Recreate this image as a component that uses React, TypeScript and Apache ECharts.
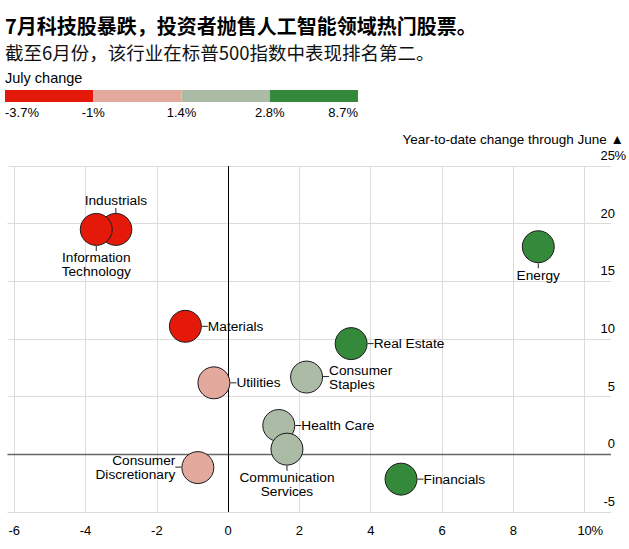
import React, { useEffect, useRef } from "react";
import * as echarts from "echarts";

// Sectors of the S&P 500: July change (x) vs. year-to-date change through June (y)
const sectors = [
  "Industrials",
  "Information Technology",
  "Energy",
  "Materials",
  "Real Estate",
  "Utilities",
  "Consumer Staples",
  "Health Care",
  "Communication Services",
  "Consumer Discretionary",
  "Financials",
];
const julyChange = [-3.15, -3.7, 8.7, -1.2, 3.45, -0.4, 2.2, 1.42, 1.65, -0.85, 4.85];
const ytdChange = [19.5, 19.5, 18.0, 11.1, 9.6, 6.2, 6.7, 2.5, 0.45, -1.15, -2.15];

// Colour bins for the July change
const binBreaks = [-3.7, -1, 1.4, 2.8, 8.7];
const binLabels = ["-3.7%", "-1%", "1.4%", "2.8%", "8.7%"];
const binColors = ["#e5190a", "#e2a99c", "#abbba6", "#348a3a"];

const xTicks = [-6, -4, -2, 0, 2, 4, 6, 8, 10];

const title = "7月科技股暴跌，投资者抛售人工智能领域热门股票。";
const subtitle = "截至6月份，该行业在标普500指数中表现排名第二。";
const legendTitle = "July change";
const yAxisTitle = "Year-to-date change through June ▲";

// Where each sector's label sits relative to its bubble
const labelSide: Record<string, string> = {
  Industrials: "top",
  "Information Technology": "bottom",
  Energy: "bottom",
  Materials: "right",
  "Real Estate": "right",
  Utilities: "right",
  "Consumer Staples": "right",
  "Health Care": "right",
  "Communication Services": "bottom",
  "Consumer Discretionary": "left",
  Financials: "right",
};
const labelLines: Record<string, string[]> = {
  "Information Technology": ["Information", "Technology"],
  "Consumer Staples": ["Consumer", "Staples"],
  "Communication Services": ["Communication", "Services"],
  "Consumer Discretionary": ["Consumer", "Discretionary"],
};

const FONT = "'Liberation Sans', Arial, Helvetica, sans-serif";
const CJK = "'Noto Sans CJK SC', 'Liberation Sans', sans-serif";

function labelText(name: string): string {
  const lines = labelLines[name] || [name];
  const side = labelSide[name];
  if (side === "top") return `{t|${lines.join("}\n{t|")}}\n{v|}`;
  if (side === "bottom") return `{v|}\n{t|${lines.join("}\n{t|")}}`;
  if (side === "left") {
    if (lines.length === 1) return `{t|${lines[0]}}{h|}`;
    return `{t|${lines[0]}}{hb|}\n{t|${lines[1]}}{s|}`;
  }
  if (lines.length === 1) return `{h|}{t|${lines[0]}}`;
  return `{hb|}{t|${lines[0]}}\n{s|}{t|${lines[1]}}`;
}

export default function App() {
  const ref = useRef<HTMLDivElement>(null);

  useEffect(() => {
    document.body.style.margin = "0";
    if (!ref.current) return;
    const chart = echarts.init(ref.current, null, { renderer: "svg" });

    // legend bar
    const barX = 5;
    const barW = 353;
    const segW = barW / binColors.length;
    const legendGraphics: any[] = [];
    binColors.forEach((c, i) => {
      legendGraphics.push({
        type: "rect",
        shape: { x: barX + i * segW, y: 90, width: segW, height: 12 },
        style: { fill: c },
      });
    });
    binLabels.forEach((t, i) => {
      const align = i === 0 ? "left" : i === binLabels.length - 1 ? "right" : "center";
      legendGraphics.push({
        type: "text",
        x: barX + i * segW,
        y: 112,
        style: {
          text: t,
          font: `13px ${FONT}`,
          fill: "#000",
          textAlign: align,
          textVerticalAlign: "middle",
        },
      });
    });

    const data = sectors.map((name, i) => ({
      name,
      value: [julyChange[i], ytdChange[i]],
      label: {
        position: labelSide[name],
        align:
          labelSide[name] === "left"
            ? "right"
            : labelSide[name] === "right"
            ? "left"
            : "center",
      },
    }));

    const option: any = {
      animation: false,
      textStyle: { fontFamily: FONT },
      grid: { left: 5, right: 17, top: 166, bottom: 37 },
      xAxis: {
        type: "value",
        min: -6.19,
        max: 10.74,
        axisLine: { show: false },
        axisTick: { show: false },
        splitLine: { show: false },
        axisLabel: {
          customValues: xTicks,
          margin: 12,
          fontSize: 13,
          color: "#000",
          fontFamily: FONT,
          // the percent sign hangs to the right of the centred number
          formatter: (v: number) => (v === 10 ? "{s|}{n|10}{q|%}" : `{s|}{n|${v}}{s|}`),
          rich: { n: {}, s: { width: 11 }, q: { width: 11 } },
        },
      },
      yAxis: {
        type: "value",
        position: "right",
        min: -5,
        max: 25,
        interval: 5,
        axisLine: { show: false },
        axisTick: { show: false },
        splitLine: { lineStyle: { color: "#dcdcdc", width: 1 } },
        axisLabel: {
          inside: true,
          margin: -15,
          verticalAlign: "bottom",
          padding: [0, 0, 4, 0],
          fontSize: 13,
          color: "#000",
          fontFamily: FONT,
          formatter: (v: number) => (v === 25 ? "{n|25}{q|%}" : `{n|${v}}{p|}`),
          rich: { n: {}, p: { width: 11, align: "right" }, q: { width: 11 } },
        },
      },
      visualMap: {
        show: false,
        type: "piecewise",
        dimension: 0,
        seriesIndex: 0,
        pieces: binColors.map((c, i) => ({
          gte: binBreaks[i],
          lt: i === binColors.length - 1 ? binBreaks[i + 1] + 1 : binBreaks[i + 1],
          color: c,
        })),
      },
      series: [
        {
          type: "scatter",
          symbolSize: 32,
          z: 3,
          itemStyle: { borderColor: "#1a1a1a", borderWidth: 1, opacity: 1 },
          label: {
            show: true,
            distance: 0,
            color: "#000",
            fontSize: 13.7,
            fontFamily: FONT,
            formatter: (p: any) => labelText(p.name),
            rich: {
              t: { fontSize: 13.7, lineHeight: 14, color: "#000", fontFamily: FONT },
              h: { width: 6, height: 1, backgroundColor: "#222" },
              hb: { width: 6, height: 1, backgroundColor: "#222", verticalAlign: "bottom" },
              s: { width: 6, height: 1 },
              v: { width: 1, height: 5, lineHeight: 5, backgroundColor: "#222" },
            },
          },
          emphasis: { disabled: true },
          data,
          markLine: {
            silent: true,
            z: 1,
            symbol: "none",
            label: { show: false },
            emphasis: { disabled: true },
            data: [
              ...xTicks
                .filter((v) => v !== 0)
                .map((v) => ({ xAxis: v, lineStyle: { color: "#dcdcdc", width: 1, type: "solid" } })),
              { yAxis: 0, lineStyle: { color: "#666", width: 1.3, type: "solid" } },
              { xAxis: 0, lineStyle: { color: "#000", width: 1, type: "solid" } },
            ],
          },
        },
      ],
      graphic: [
        {
          type: "text",
          x: 5,
          y: 25,
          style: {
            text: title,
            font: `bold 20px ${CJK}`,
            fill: "#000",
            textVerticalAlign: "middle",
          },
        },
        {
          type: "text",
          x: 5,
          y: 52,
          style: {
            text: subtitle,
            font: `18.5px ${CJK}`,
            fill: "#111",
            textVerticalAlign: "middle",
          },
        },
        {
          type: "text",
          x: 5,
          y: 78,
          style: {
            text: legendTitle,
            font: `14.5px ${FONT}`,
            fill: "#000",
            textVerticalAlign: "middle",
          },
        },
        ...legendGraphics,
        {
          type: "text",
          x: 624,
          y: 139,
          style: {
            text: yAxisTitle,
            font: `13.5px ${FONT}`,
            fill: "#000",
            textAlign: "right",
            textVerticalAlign: "middle",
          },
        },
      ],
    };

    chart.setOption(option);
    return () => chart.dispose();
  }, []);

  return <div ref={ref} style={{ width: 629, height: 549 }} />;
}
